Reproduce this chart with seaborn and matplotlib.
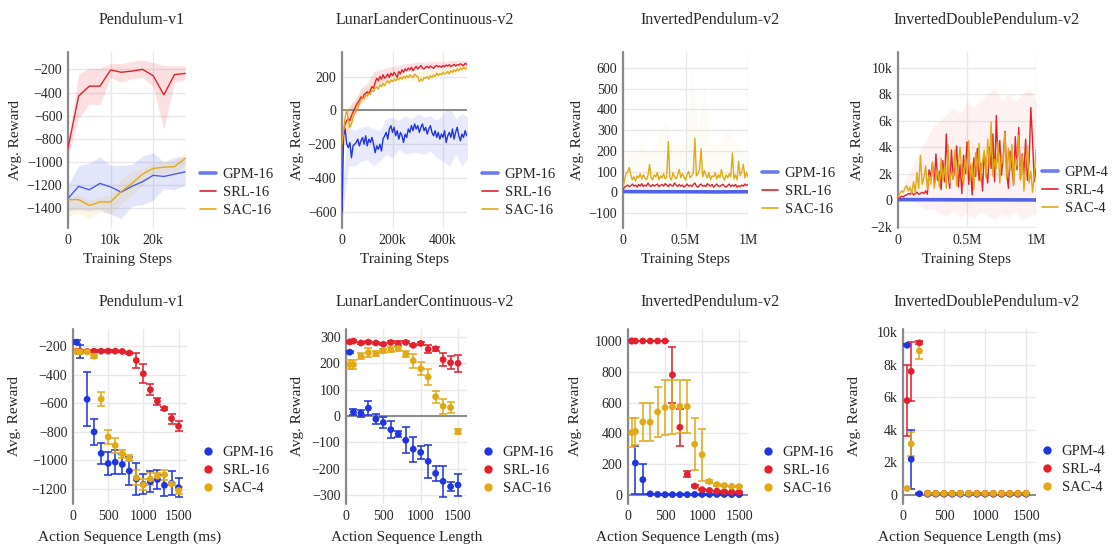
import numpy as np
import matplotlib
matplotlib.use('Agg')
import matplotlib.pyplot as plt
from matplotlib.lines import Line2D
from matplotlib.ticker import FuncFormatter, MultipleLocator
import seaborn as sns

BLUE = '#1f35e0'
RED = '#e3202c'
GOLD = '#e2a917'

# ---------------- top row: training curves ----------------
# Pendulum-v1
pend_steps = [0, 2500, 5000, 7500, 10000, 12500, 15000, 17500, 20000, 22500, 25000, 27500]
pend_gpm = [-1315, -1210, -1240, -1185, -1215, -1260, -1210, -1170, -1115, -1125, -1105, -1085]
pend_gpm_lo = [-1420, -1410, -1420, -1410, -1450, -1490, -1380, -1370, -1330, -1230, -1240, -1200]
pend_gpm_hi = [-1200, -1030, -1010, -955, -1030, -1030, -1020, -950, -920, -1000, -960, -950]
pend_srl = [-880, -430, -345, -345, -205, -225, -215, -200, -255, -420, -245, -235]
pend_srl_lo = [-950, -620, -500, -505, -270, -310, -280, -270, -350, -720, -310, -290]
pend_srl_hi = [-820, -240, -190, -190, -150, -150, -130, -120, -140, -165, -170, -170]
pend_sac = [-1325, -1325, -1375, -1345, -1345, -1255, -1185, -1105, -1055, -1045, -1040, -970]
pend_sac_lo = [-1470, -1440, -1490, -1430, -1450, -1360, -1290, -1200, -1100, -1100, -1090, -1030]
pend_sac_hi = [-1300, -1280, -1330, -1300, -1290, -1150, -1080, -1060, -1010, -1000, -990, -920]

# LunarLanderContinuous-v2 (one value every 6.25k steps)
lunar_gpm = [-600, -150, -110, -200, -220, -190, -280, -210, -200, -190,
             -170, -210, -180, -160, -200, -150, -210, -170, -190, -160,
             -200, -250, -210, -230, -200, -240, -170, -150, -130, -170,
             -110, -90, -130, -100, -150, -120, -170, -130, -150, -190,
             -140, -160, -110, -130, -90, -120, -80, -110, -90, -130,
             -100, -80, -120, -100, -140, -110, -90, -130, -150, -120,
             -160, -130, -170, -140, -160, -120, -190, -150, -130, -160,
             -110, -170, -130, -100, -150, -180, -140, -160, -120, -150]
lunar_srl = [-200, -120, -80, -60, -50, -60, -30, -10, 10, 30,
             45, 60, 80, 70, 95, 100, 110, 95, 120, 140,
             130, 165, 190, 175, 200, 185, 210, 190, 200, 215,
             195, 220, 205, 225, 210, 195, 230, 215, 240, 225,
             245, 235, 250, 240, 255, 235, 250, 260, 245, 255,
             265, 250, 245, 255, 260, 250, 262, 255, 248, 260,
             265, 258, 262, 255, 265, 258, 268, 262, 270, 260,
             265, 272, 262, 270, 268, 275, 270, 265, 278, 272]
lunar_sac = [-200, -120, -40, 5, -60, -100, -80, -40, -20, 0,
             20, 40, 60, 75, 70, 90, 85, 100, 95, 120,
             110, 130, 140, 125, 150, 140, 160, 145, 165, 175,
             160, 180, 170, 185, 175, 190, 180, 195, 185, 200,
             190, 205, 195, 210, 200, 195, 215, 205, 200, 170,
             185, 175, 195, 190, 200, 185, 205, 195, 210, 200,
             220, 205, 215, 210, 225, 215, 220, 230, 215, 235,
             225, 240, 230, 245, 235, 250, 240, 255, 245, 250]
lunar_band_steps = [0, 25e3, 50e3, 75e3, 100e3, 125e3, 150e3, 175e3, 200e3, 225e3, 250e3,
                    275e3, 300e3, 325e3, 350e3, 375e3, 400e3, 425e3, 450e3, 475e3, 500e3]
lunar_gpm_lo = [-650, -330, -330, -300, -290, -330, -300, -260, -280, -230, -260,
                -250, -250, -260, -240, -280, -300, -330, -260, -330, -280]
lunar_gpm_hi = [-450, -100, -120, -100, -90, -110, -120, -50, -40, -60, -30,
                -50, -20, -40, -30, -60, -20, 20, -50, -20, -40]
lunar_srl_lo = [-230, -110, -30, 40, 70, 150, 160, 180, 210, 220, 230,
                230, 240, 245, 250, 250, 255, 255, 260, 260, 260]
lunar_srl_hi = [-170, 20, 60, 130, 160, 230, 240, 250, 260, 265, 275,
                280, 285, 285, 290, 290, 290, 295, 295, 295, 295]
lunar_sac_lo = [-230, -150, -20, 50, 90, 120, 150, 160, 170, 180, 180,
                175, 190, 190, 200, 210, 215, 220, 225, 230, 230]
lunar_sac_hi = [-170, 20, 60, 110, 150, 170, 190, 205, 215, 225, 225,
                215, 230, 235, 245, 250, 255, 260, 265, 270, 270]

# InvertedPendulum-v2 (one value every 12.5k steps)
inv_gpm_steps = [0, 250e3, 500e3, 750e3, 1e6]
inv_gpm = [4, 3, 3, 2, 3]
inv_srl = [15, 25, 30, 35, 28, 32, 40, 30, 35, 25,
           38, 30, 42, 28, 35, 30, 45, 32, 28, 38,
           30, 35, 40, 28, 33, 38, 30, 42, 35, 28,
           40, 33, 30, 45, 35, 28, 38, 30, 35, 25,
           32, 40, 30, 35, 28, 38, 45, 30, 25, 35,
           40, 30, 33, 28, 42, 35, 30, 38, 25, 33,
           40, 30, 28, 35, 38, 30, 25, 33, 40, 28,
           35, 30, 38, 25, 32, 28, 35, 30, 40, 33, 38]
inv_sac = [25, 60, 90, 100, 120, 85, 60, 75, 55, 80,
           70, 90, 65, 85, 70, 60, 80, 135, 70, 60,
           85, 75, 95, 60, 80, 70, 90, 65, 75, 245,
           70, 60, 95, 75, 65, 85, 110, 70, 90, 75,
           60, 85, 100, 70, 80, 95, 260, 80, 90, 110,
           210, 75, 105, 85, 70, 95, 60, 80, 75, 95,
           65, 85, 70, 110, 75, 60, 85, 70, 90, 75,
           190, 65, 85, 60, 150, 80, 100, 135, 70, 95, 75]
inv_band_steps = [0, 50e3, 100e3, 150e3, 200e3, 250e3, 300e3, 350e3, 400e3, 450e3, 500e3,
                  550e3, 600e3, 650e3, 700e3, 750e3, 800e3, 850e3, 900e3, 950e3, 1e6]
inv_sac_lo = [0, 20, 30, 20, 30, 25, 30, 20, 30, 25, 30, 20, 30, 25, 30, 20, 25, 30, 20, 25, 30]
inv_sac_hi = [150, 200, 180, 250, 200, 220, 300, 350, 220, 250, 230,
              600, 300, 520, 250, 220, 280, 300, 250, 200, 180]

# InvertedDoublePendulum-v2 (values in thousands, every 12.5k steps)
idp_gpm_steps = [0, 250e3, 500e3, 750e3, 1e6]
idp_gpm_k = [0.05, 0.04, 0.03, 0.03, 0.02]
idp_srl_k = [0.1, 0.2, 0.3, 0.25, 0.35, 0.4, 0.5, 0.45, 0.6, 0.4,
             0.5, 0.6, 0.45, 0.5, 0.6, 0.5, 0.7, 0.45, 2.3, 1.8,
             2.8, 1.2, 3.5, 1.5, 2.2, 0.8, 3.0, 1.4, 5.0, 2.0,
             0.9, 3.8, 1.6, 2.5, 4.1, 1.0, 2.7, 0.5, 3.4, 2.0,
             4.4, 1.2, 2.6, 0.4, 3.2, 1.8, 3.9, 1.5, 2.8, 0.7,
             3.6, 2.2, 1.3, 4.0, 2.4, 5.0, 1.4, 6.4, 2.9, 4.5,
             1.9, 3.3, 5.2, 2.1, 0.9, 3.7, 2.5, 1.2, 4.8, 2.3,
             5.5, 1.6, 3.5, 2.0, 4.6, 1.5, 3.0, 7.0, 4.5, 1.4, 2.4]
idp_sac_k = [0.2, 0.5, 0.7, 0.6, 0.9, 1.1, 0.7, 1.0, 0.5, 1.4,
             0.6, 2.1, 0.9, 3.4, 1.2, 1.7, 2.6, 0.8, 1.9, 1.2,
             2.9, 0.9, 1.7, 2.3, 1.0, 3.2, 1.5, 2.6, 0.9, 4.2,
             1.3, 2.2, 1.6, 3.8, 1.1, 2.7, 4.0, 1.9, 1.2, 3.3,
             2.0, 4.5, 1.6, 2.8, 0.8, 3.6, 2.2, 4.3, 1.4, 2.9,
             3.8, 1.7, 4.6, 2.5, 5.9, 1.8, 3.1, 2.4, 4.4, 1.3,
             3.5, 2.7, 5.1, 1.6, 3.9, 2.2, 4.2, 1.1, 3.2, 2.6,
             4.9, 1.5, 3.4, 0.7, 2.8, 4.1, 1.3, 2.2, 0.6, 1.9, 3.8]
idp_band_steps = [0, 50e3, 100e3, 150e3, 200e3, 250e3, 300e3, 350e3, 400e3, 450e3, 500e3,
                  550e3, 600e3, 650e3, 700e3, 750e3, 800e3, 850e3, 900e3, 950e3, 1e6]
idp_srl_lo_k = [0, 0, 0, -0.3, -0.8, -0.6, -1.0, -1.2, -0.8, -1.3, -1.0,
                -1.4, -0.8, -1.2, -1.5, -1.0, -1.3, -0.9, -1.5, -1.2, -1.0]
idp_srl_hi_k = [0.3, 1.5, 2.5, 3.5, 4.5, 5.5, 6.0, 6.5, 7.0, 6.5, 7.5,
                7.0, 7.5, 8.0, 8.5, 7.5, 8.0, 7.5, 8.0, 8.5, 7.5]

# ---------------- bottom row: action sequence length ----------------
seq_len = [50, 100, 200, 300, 400, 500, 600, 700, 800, 900, 1000, 1100, 1200, 1300, 1400, 1500]

pend_b_gpm = [-172, -240, -572, -800, -951, -1021, -1012, -1028, -1074, -1130, -1167, -1149, -1133, -1174, -1160, -1190]
pend_b_gpm_err = [15, 45, 190, 90, 75, 80, 85, 70, 100, 110, 70, 75, 65, 75, 85, 65]
pend_b_srl = [-235, -235, -237, -235, -235, -235, -235, -237, -248, -300, -393, -505, -586, -637, -707, -760]
pend_b_srl_err = [5, 5, 5, 5, 5, 5, 5, 5, 8, 55, 65, 40, 25, 8, 35, 35]
pend_b_sac = [-238, -240, -240, -270, -570, -835, -895, -955, -985, -1120, -1170, -1130, -1110, -1100, -1165, -1210]
pend_b_sac_err = [12, 10, 8, 10, 50, 50, 50, 30, 20, 50, 40, 40, 25, 35, 10, 25]

lunar_b_gpm = [242, 15, 10, 30, -12, -25, -52, -68, -92, -126, -138, -172, -218, -248, -268, -262]
lunar_b_gpm_err = [4, 12, 12, 25, 20, 20, 33, 12, 50, 48, 25, 63, 30, 60, 18, 40]
lunar_b_srl = [281, 284, 277, 280, 277, 272, 279, 275, 279, 268, 275, 253, 255, 214, 202, 200]
lunar_b_srl_err = [4, 4, 4, 4, 4, 4, 4, 8, 4, 4, 4, 15, 8, 25, 25, 32]
lunar_b_sac = [195, 195, 227, 240, 237, 248, 252, 256, 235, 210, 180, 148, 73, 37, 32, -59]
lunar_b_sac_err = [18, 18, 12, 18, 8, 8, 8, 10, 12, 27, 25, 32, 22, 28, 20, 10]

inv_b_gpm = [1000, 208, 100, 8, 4, 3, 3, 3, 3, 4, 4, 4, 4, 4, 3, 3]
inv_b_gpm_err_lo = [0, 200, 95, 2, 1, 1, 1, 1, 1, 1, 1, 1, 1, 1, 1, 1]
inv_b_gpm_err_hi = [0, 112, 100, 2, 1, 1, 1, 1, 1, 1, 1, 1, 1, 1, 1, 1]
inv_b_srl = [1000, 1000, 1000, 1000, 1000, 1000, 780, 440, 135, 58, 35, 30, 25, 22, 20, 20]
inv_b_srl_err = [0, 0, 0, 0, 0, 0, 180, 120, 20, 8, 5, 4, 3, 3, 3, 3]
inv_b_sac = [405, 413, 475, 473, 540, 568, 572, 575, 575, 330, 262, 88, 68, 62, 57, 55]
inv_b_sac_err = [95, 90, 125, 125, 160, 180, 178, 175, 175, 170, 170, 10, 6, 5, 5, 5]

idp_b_gpm = [9200, 2200, 80, 50, 50, 50, 50, 50, 50, 50, 50, 50, 50, 50, 50, 50]
idp_b_gpm_err = [50, 1800, 20, 10, 10, 10, 10, 10, 10, 10, 10, 10, 10, 10, 10, 10]
idp_b_srl = [5800, 7600, 9350, 120, 110, 110, 110, 110, 110, 110, 110, 110, 110, 110, 110, 110]
idp_b_srl_err = [2200, 1800, 100, 20, 10, 10, 10, 10, 10, 10, 10, 10, 10, 10, 10, 10]
idp_b_sac = [400, 3150, 8850, 100, 100, 100, 100, 100, 100, 100, 100, 100, 100, 100, 100, 100]
idp_b_sac_err = [30, 750, 500, 10, 10, 10, 10, 10, 10, 10, 10, 10, 10, 10, 10, 10]

# ---------------- figure ----------------
sns.set_style('white')
plt.rcParams['font.family'] = ['Liberation Serif', 'DejaVu Serif']
plt.rcParams['axes.unicode_minus'] = True

W, H = 1115, 546
fig = plt.figure(figsize=(W / 100, H / 100), dpi=100)


def add_axes(left, top, right, bottom):
    return fig.add_axes([left / W, 1 - bottom / H, (right - left) / W, (bottom - top) / H])


def fmt_unit(div, suffix):
    def f(v, pos):
        if abs(v) < 1e-9:
            return '0'
        s = f'{abs(v) / div:g}{suffix}'
        return ('\u2212' + s) if v < 0 else s
    return FuncFormatter(f)


def style(ax, box, xlim, ylim, ystep, xticks, xlabel, ylab_x, leg_xy, handles, labels,
          xfmt=None, yfmt=None, xlab_gap=25):
    left, top, right, bottom = box
    w, h = right - left, bottom - top
    ax.set_xlim(*xlim)
    ax.set_ylim(*ylim)
    ax.yaxis.set_major_locator(MultipleLocator(ystep))
    ax.set_xticks(xticks)
    if xfmt is not None:
        ax.xaxis.set_major_formatter(xfmt)
    if yfmt is not None:
        ax.yaxis.set_major_formatter(yfmt)
    ax.grid(True, color='#e8e8e8', lw=1)
    ax.set_axisbelow(True)
    for s in ax.spines.values():
        s.set_visible(False)
    ax.tick_params(length=0, labelsize=10, pad=4)
    ax.axvline(0, color='#8a8a8a', lw=1.6, zorder=1.2, clip_on=False)
    if ylim[0] < 0 < ylim[1]:
        ax.axhline(0, color='#8a8a8a', lw=1.4, zorder=1.2)
    ax.set_xlabel(xlabel, fontsize=11)
    ax.set_ylabel('Avg. Reward', fontsize=11, va='center')
    ax.xaxis.set_label_coords(0.5, -xlab_gap / h)
    ax.yaxis.set_label_coords((ylab_x - left) / w, 0.5)
    lx, ly = leg_xy
    ax.legend(handles, labels, loc='upper left',
              bbox_to_anchor=((lx - left) / w, (bottom - ly) / h),
              frameon=False, borderpad=0, borderaxespad=0, fontsize=10.5,
              handlelength=1.1, handletextpad=0.45, labelspacing=0.32)


titles = ['Pendulum-v1', 'LunarLanderContinuous-v2', 'InvertedPendulum-v2', 'InvertedDoublePendulum-v2']
title_cx = [142, 425, 710, 987]
for cx, t in zip(title_cx, titles):
    fig.text(cx / W, 1 - 20 / H, t, ha='center', va='center', fontsize=11.5)
    fig.text(cx / W, 1 - 302 / H, t, ha='center', va='center', fontsize=11.5)

line_handles = [Line2D([], [], color='#6a7bf0', lw=2.6),
                Line2D([], [], color=RED, lw=1.2),
                Line2D([], [], color=GOLD, lw=1.2)]
dot_handles = [Line2D([], [], color=c, marker='o', ls='', markersize=5) for c in (BLUE, RED, GOLD)]

top_boxes = [(68, 52, 186, 228), (342, 52, 467, 228), (623, 52, 748, 228), (898, 52, 1036, 228)]
bot_boxes = [(73, 329, 187, 504), (346, 329, 467, 504), (628, 329, 748, 504), (903, 329, 1036, 504)]
top_axes = [add_axes(*b) for b in top_boxes]
bot_axes = [add_axes(*b) for b in bot_boxes]


def curve(ax, x, y, color, lw=1.0, alpha=1.0):
    sns.lineplot(x=np.asarray(x, float), y=np.asarray(y, float), ax=ax, color=color,
                 lw=lw, alpha=alpha, legend=False, estimator=None, zorder=3)


# Pendulum top
ax = top_axes[0]
ax.fill_between(pend_steps, pend_gpm_lo, pend_gpm_hi, color=BLUE, alpha=0.12, lw=0)
ax.fill_between(pend_steps, pend_srl_lo, pend_srl_hi, color=RED, alpha=0.14, lw=0)
ax.fill_between(pend_steps, pend_sac_lo, pend_sac_hi, color=GOLD, alpha=0.12, lw=0)
curve(ax, pend_steps, pend_gpm, '#4a5ce8', 1.0)
curve(ax, pend_steps, pend_srl, RED)
curve(ax, pend_steps, pend_sac, GOLD)
style(ax, top_boxes[0], (0, 27700), (-1570, -50), 200, [0, 10000, 20000], 'Training Steps',
      16, (200, 168), line_handles, ['GPM-16', 'SRL-16', 'SAC-16'], xfmt=fmt_unit(1e3, 'k'))

# Lunar top
ax = top_axes[1]
lunar_steps = np.arange(len(lunar_gpm)) * 6250
ax.fill_between(lunar_band_steps, lunar_gpm_lo, lunar_gpm_hi, color=BLUE, alpha=0.1, lw=0)
ax.fill_between(lunar_band_steps, lunar_srl_lo, lunar_srl_hi, color=RED, alpha=0.12, lw=0)
ax.fill_between(lunar_band_steps, lunar_sac_lo, lunar_sac_hi, color=GOLD, alpha=0.12, lw=0)
curve(ax, lunar_steps, lunar_gpm, BLUE)
curve(ax, lunar_steps, lunar_srl, RED)
curve(ax, lunar_steps, lunar_sac, GOLD)
style(ax, top_boxes[1], (0, 495000), (-695, 345), 200, [0, 200000, 400000], 'Training Steps',
      297, (482, 168), line_handles, ['GPM-16', 'SRL-16', 'SAC-16'], xfmt=fmt_unit(1e3, 'k'))

# InvertedPendulum top
ax = top_axes[2]
inv_steps = np.arange(len(inv_sac)) * 12500
ax.fill_between(inv_band_steps, inv_sac_lo, inv_sac_hi, color=GOLD, alpha=0.035, lw=0)
curve(ax, inv_gpm_steps, inv_gpm, '#5062ea', 2.6)
curve(ax, inv_steps, inv_srl, RED)
curve(ax, inv_steps, inv_sac, GOLD)
style(ax, top_boxes[2], (0, 1e6), (-172, 677), 100, [0, 5e5, 1e6], 'Training Steps',
      577, (762, 167), line_handles, ['GPM-16', 'SRL-16', 'SAC-16'], xfmt=fmt_unit(1e6, 'M'))

# InvertedDoublePendulum top
ax = top_axes[3]
idp_steps = np.arange(len(idp_srl_k)) * 12500
ax.fill_between(idp_band_steps, np.array(idp_srl_lo_k) * 1000, np.array(idp_srl_hi_k) * 1000,
                color=RED, alpha=0.06, lw=0)
curve(ax, idp_gpm_steps, np.array(idp_gpm_k) * 1000, '#5062ea', 2.6)
curve(ax, idp_steps, np.array(idp_srl_k) * 1000, RED)
curve(ax, idp_steps, np.array(idp_sac_k) * 1000, GOLD)
style(ax, top_boxes[3], (0, 1e6), (-2100, 11200), 2000, [0, 5e5, 1e6], 'Training Steps',
      857, (1042, 166), line_handles, ['GPM-4', 'SRL-4', 'SAC-4'],
      xfmt=fmt_unit(1e6, 'M'), yfmt=fmt_unit(1e3, 'k'))


def dots(ax, y, err, color):
    ax.errorbar(seq_len, y, yerr=err, fmt='none', ecolor=color, elinewidth=1.4,
                capsize=3, capthick=1.4, alpha=0.8, zorder=3)
    sns.scatterplot(x=seq_len, y=y, ax=ax, color=color, s=24, edgecolor='none',
                    legend=False, zorder=4)


ax = bot_axes[0]
dots(ax, pend_b_gpm, pend_b_gpm_err, BLUE)
dots(ax, pend_b_srl, pend_b_srl_err, RED)
dots(ax, pend_b_sac, pend_b_sac_err, GOLD)
style(ax, bot_boxes[0], (0, 1620), (-1305, -80), 200, [0, 500, 1000, 1500],
      'Action Sequence Length (ms)', 15, (200, 446), dot_handles, ['GPM-16', 'SRL-16', 'SAC-4'],
      xlab_gap=27)

ax = bot_axes[1]
dots(ax, lunar_b_gpm, lunar_b_gpm_err, BLUE)
dots(ax, lunar_b_srl, lunar_b_srl_err, RED)
dots(ax, lunar_b_sac, lunar_b_sac_err, GOLD)
style(ax, bot_boxes[1], (0, 1620), (-334, 330), 100, [0, 500, 1000, 1500],
      'Action Sequence Length', 297, (480, 446), dot_handles, ['GPM-16', 'SRL-16', 'SAC-16'],
      xlab_gap=27)

ax = bot_axes[2]
dots(ax, inv_b_gpm, [inv_b_gpm_err_lo, inv_b_gpm_err_hi], BLUE)
dots(ax, inv_b_srl, inv_b_srl_err, RED)
dots(ax, inv_b_sac, inv_b_sac_err, GOLD)
style(ax, bot_boxes[2], (0, 1620), (-58, 1078), 200, [0, 500, 1000, 1500],
      'Action Sequence Length (ms)', 575, (760, 446), dot_handles, ['GPM-16', 'SRL-16', 'SAC-16'],
      xlab_gap=27)

ax = bot_axes[3]
dots(ax, idp_b_gpm, idp_b_gpm_err, BLUE)
dots(ax, idp_b_srl, idp_b_srl_err, RED)
dots(ax, idp_b_sac, idp_b_sac_err, GOLD)
style(ax, bot_boxes[3], (0, 1620), (-550, 10200), 2000, [0, 500, 1000, 1500],
      'Action Sequence Length (ms)', 855, (1039, 445), dot_handles, ['GPM-4', 'SRL-4', 'SAC-4'],
      yfmt=fmt_unit(1e3, 'k'), xlab_gap=27)

fig.savefig('out.png', dpi=100)
